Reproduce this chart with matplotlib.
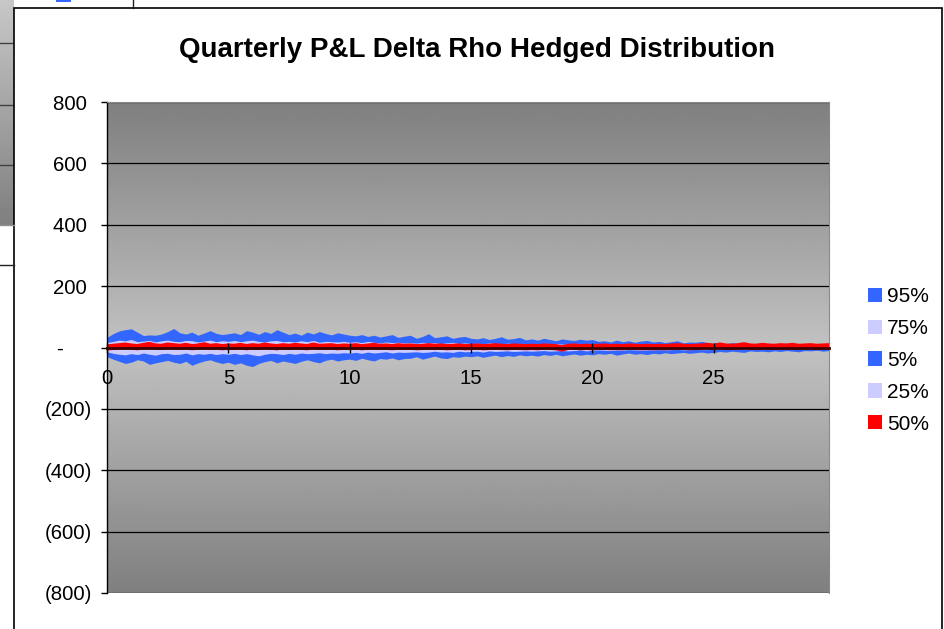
"""Quarterly P&L distribution bands (Excel-style area chart)."""

import matplotlib

matplotlib.use("Agg")

import matplotlib.pyplot as plt
import numpy as np
from matplotlib.lines import Line2D
from matplotlib.patches import Patch, Rectangle

plt.rcParams["font.family"] = ["Liberation Sans", "DejaVu Sans"]

W, H = 945, 629

# quarterly steps over 30 years
years = np.arange(120) / 4

p95 = [33, 45, 54, 58, 61, 50, 39, 41, 40, 44,
       52, 62, 48, 44, 50, 40, 47, 55, 46, 42,
       45, 48, 42, 55, 50, 43, 52, 46, 58, 50,
       42, 47, 40, 50, 44, 52, 46, 41, 48, 44,
       40, 38, 42, 36, 40, 34, 38, 42, 33, 37,
       40, 30, 36, 45, 32, 35, 38, 30, 34, 36,
       30, 28, 32, 26, 30, 35, 27, 29, 33, 25,
       28, 24, 30, 26, 22, 28, 25, 23, 27, 24,
       26, 20, 22, 18, 24, 19, 22, 17, 21, 23,
       18, 20, 16, 19, 22, 15, 18, 17, 20, 16,
       14, 17, 12, 16, 13, 15, 11, 14, 12, 13,
       11, 13, 10, 12, 9, 11, 10, 12, 9, 10]

p75 = [16, 20, 24, 22, 26, 19, 21, 23, 18, 22,
       24, 20, 19, 23, 22, 18, 21, 24, 19, 22,
       20, 23, 19, 22, 24, 20, 18, 22, 23, 19,
       20, 18, 22, 19, 23, 17, 20, 19, 18, 20,
       17, 19, 16, 20, 17, 15, 18, 16, 17, 15,
       16, 14, 17, 15, 16, 13, 15, 17, 13, 15,
       13, 14, 12, 15, 13, 12, 14, 13, 11, 13,
       12, 13, 11, 12, 13, 11, 12, 10, 11, 12,
       10, 9, 11, 9, 12, 8, 10, 9, 8, 9,
       8, 9, 8, 7, 9, 8, 7, 8, 7, 8,
       6, 5, 6, 7, 5, 6, 5, 6, 5, 5,
       5, 4, 5, 4, 5, 4, 4, 5, 4, 4]

p5 = [-30, -38, -45, -52, -48, -40, -44, -55, -50, -46,
      -42, -48, -52, -45, -58, -50, -44, -40, -47, -52,
      -48, -55, -50, -58, -62, -52, -46, -42, -50, -44,
      -48, -52, -45, -40, -46, -50, -42, -38, -44, -40,
      -38, -42, -35, -40, -44, -36, -38, -34, -40, -36,
      -35, -30, -38, -33, -28, -34, -36, -30, -32, -28,
      -30, -27, -32, -28, -25, -30, -26, -29, -24, -27,
      -25, -28, -23, -26, -22, -27, -24, -21, -25, -22,
      -24, -20, -22, -19, -25, -21, -18, -22, -20, -23,
      -19, -21, -17, -20, -18, -16, -19, -17, -15, -18,
      -16, -13, -15, -12, -14, -16, -11, -13, -12, -14,
      -11, -13, -10, -12, -14, -10, -11, -9, -12, -10]

p25 = [-14, -19, -22, -24, -20, -23, -18, -22, -25, -20,
       -19, -23, -22, -18, -24, -20, -22, -19, -23, -20,
       -22, -19, -23, -20, -24, -27, -22, -19, -20, -23,
       -19, -22, -18, -20, -19, -17, -20, -18, -19, -17,
       -18, -16, -19, -15, -18, -16, -14, -18, -15, -16,
       -15, -14, -16, -15, -12, -15, -14, -16, -12, -14,
       -13, -12, -15, -11, -13, -12, -11, -13, -12, -11,
       -12, -11, -10, -12, -11, -10, -11, -10, -8, -11,
       -9, -8, -9, -10, -8, -9, -7, -8, -9, -8,
       -8, -7, -8, -7, -6, -8, -7, -6, -7, -7,
       -5, -6, -5, -4, -5, -6, -4, -5, -4, -5,
       -4, -5, -4, -4, -3, -4, -5, -4, -3, -4]

p50 = [0, 2, 4, 6, 3, 1, 5, 8, 3, 2,
       6, 4, 2, 5, 1, 3, 7, 2, 4, 1,
       3, 2, 5, 1, 4, 2, 6, 3, 1, 4,
       2, 5, 3, 1, 6, 2, 3, 4, 1, 3,
       2, 4, 1, 3, 5, 2, 3, 1, 4, 2,
       3, 1, 2, 4, 2, 3, 1, 2, 3, 1,
       2, 3, 1, 2, 4, 2, 1, 3, 2, 1,
       2, 1, 3, 2, 1, -3, 2, 3, 1, 2,
       1, 2, 3, 1, 2, 1, 3, 2, 1, 2,
       1, 2, 1, 3, 4, 2, 1, 2, 3, 5,
       2, 6, 3, 2, 4, 7, 3, 2, 5, 3,
       2, 4, 3, 5, 2, 3, 4, 2, 3, 4]

series_labels = ["95%", "75%", "5%", "25%", "50%"]
yticks = [800, 600, 400, 200, 0, -200, -400, -600, -800]
xticks = [0, 5, 10, 15, 20, 25]

BLUE = "#3366ff"
LAVENDER = "#ccccff"
RED = "#ff0000"


def fx(px):
    return px / W


def fy(py):
    return 1 - py / H


def accounting(v):
    if v > 0:
        return f"{v:d} "
    if v < 0:
        return f"({-v:d})"
    return "-\u2007\u2007 "


fig = plt.figure(figsize=(W / 100, H / 100), dpi=100)

# bits of the spreadsheet peeking out behind the chart
strip = fig.add_axes([0, fy(225), fx(14), 225 / H])
strip.imshow(np.linspace(0.78, 0.5, 64)[:, None], cmap="gray", vmin=0, vmax=1,
             aspect="auto", extent=[0, 1, 0, 1])
for yy in (1 - 43 / 225, 1 - 105 / 225, 1 - 165 / 225):
    strip.axhline(yy, color="#404040", lw=1)
strip.set_axis_off()
fig.add_artist(Line2D([0, fx(14)], [fy(225), fy(225)], color="#909090", lw=1))
fig.add_artist(Line2D([0, fx(14)], [fy(265), fy(265)], color="#202020", lw=1))
fig.add_artist(Line2D([fx(133), fx(133)], [fy(0), fy(8)], color="#202020", lw=1))
fig.add_artist(Rectangle((fx(56), fy(2)), fx(15), 2 / H, color=BLUE, lw=0))

# chart area frame
fig.add_artist(Rectangle((fx(14), -0.01), fx(942 - 14), fy(8) + 0.01,
                         facecolor="none", edgecolor="black", lw=1.2))

ax = fig.add_axes([fx(107), fy(593), fx(829 - 107), (593 - 102) / H])

# Excel-style grey gradient, light in the middle
t = np.linspace(0, 1, 256)
shade = 0.50 + 0.26 * (1 - np.abs(2 * t - 1))
ax.imshow(shade[:, None], cmap="gray", vmin=0, vmax=1, aspect="auto",
          extent=[0, 1, 0, 1], transform=ax.transAxes, zorder=0)

for y in yticks:
    ax.axhline(y, color="black", lw=0.9, zorder=0.5)

ax.fill_between(years, 0, p95, color=BLUE, lw=0, zorder=1)
ax.fill_between(years, 0, p75, color=LAVENDER, lw=0, zorder=1.1)
ax.fill_between(years, 0, p5, color=BLUE, lw=0, zorder=1.2)
ax.fill_between(years, 0, p25, color=LAVENDER, lw=0, zorder=1.3)
ax.fill_between(years, 0, p50, color=RED, lw=0, zorder=1.4)
ax.plot(years, p50, color=RED, lw=4.5, solid_joinstyle="round", zorder=1.5)

ax.set_xlim(0, 29.75)
ax.set_ylim(-800, 800)
ax.set_yticks(yticks)
ax.set_yticklabels([accounting(v) for v in yticks])
ax.set_xticks(xticks)
ax.set_xticklabels([str(v) for v in xticks])

ax.spines["bottom"].set_position(("data", 0))
ax.spines["bottom"].set_color("#3a0000")
ax.spines["bottom"].set_linewidth(2)
ax.spines["bottom"].set_zorder(3)
ax.spines["left"].set_color("black")
ax.spines["left"].set_linewidth(1)
for side in ("top", "right"):
    ax.spines[side].set_color("#8a8a8a")
    ax.spines[side].set_linewidth(0.8)

ax.tick_params(axis="y", direction="out", length=4.5, width=1, pad=6,
               labelsize=14.7, colors="black")
ax.tick_params(axis="x", direction="inout", length=7, width=1, pad=12,
               labelsize=14.7, colors="black")
for lab in ax.get_xticklabels():
    lab.set_zorder(4)

fig.text(fx(477), fy(50), "Quarterly P&L Delta Rho Hedged Distribution",
         ha="center", va="center", fontsize=20, fontweight="bold")

handles = [Patch(facecolor=c, edgecolor="none")
           for c in (BLUE, LAVENDER, BLUE, LAVENDER, RED)]
fig.legend(handles, series_labels, loc="upper left",
           bbox_to_anchor=(fx(868), fy(287)), frameon=False, fontsize=15,
           handlelength=0.67, handleheight=0.67, handletextpad=0.24,
           labelspacing=0.62, borderpad=0, borderaxespad=0)

fig.savefig("out.png", dpi=100, facecolor="white")
